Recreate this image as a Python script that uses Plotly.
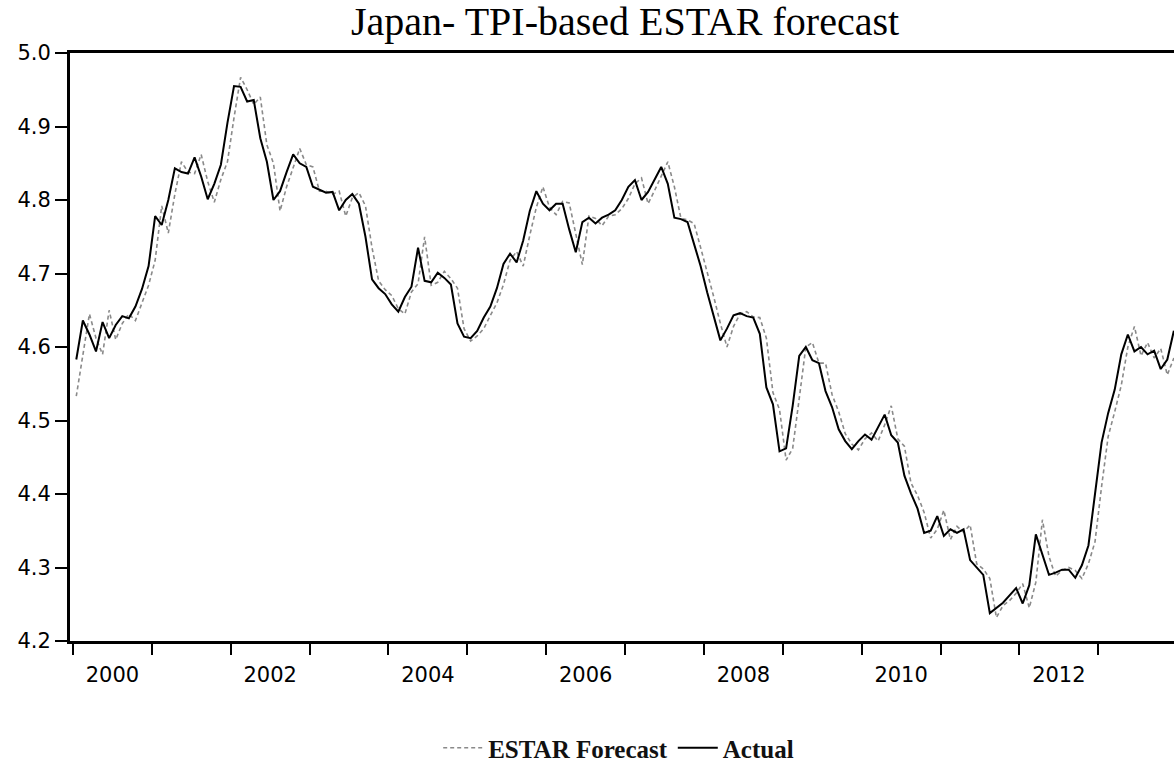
import plotly.graph_objects as go

# Monthly observations, January 2000 to December 2013
start_year = 2000
actual = [
    4.583, 4.636, 4.617, 4.594, 4.634, 4.612, 4.630, 4.642, 4.639, 4.655, 4.679, 4.710,
    4.778, 4.766, 4.800, 4.843, 4.838, 4.836, 4.858, 4.832, 4.801, 4.822, 4.848, 4.905,
    4.955, 4.954, 4.934, 4.936, 4.884, 4.852, 4.800, 4.812, 4.838, 4.862, 4.850, 4.845,
    4.818, 4.814, 4.810, 4.811, 4.786, 4.800, 4.808, 4.795, 4.750, 4.692, 4.680, 4.672,
    4.658, 4.648, 4.668, 4.682, 4.735, 4.690, 4.688, 4.701, 4.694, 4.685, 4.632, 4.614,
    4.612, 4.622, 4.640, 4.655, 4.680, 4.713, 4.727, 4.715, 4.745, 4.785, 4.812, 4.795,
    4.786, 4.795, 4.795, 4.760, 4.729, 4.770, 4.776, 4.768, 4.776, 4.780, 4.786, 4.800,
    4.818, 4.827, 4.800, 4.811, 4.827, 4.845, 4.822, 4.776, 4.774, 4.770, 4.740, 4.710,
    4.674, 4.640, 4.609, 4.625, 4.643, 4.646, 4.642, 4.640, 4.618, 4.545, 4.522, 4.458,
    4.462, 4.520, 4.588, 4.600, 4.582, 4.578, 4.540, 4.518, 4.488, 4.472, 4.461, 4.472,
    4.481, 4.474, 4.490, 4.508, 4.480, 4.470, 4.425, 4.401, 4.380, 4.347, 4.350, 4.370,
    4.343, 4.352, 4.347, 4.352, 4.310, 4.300, 4.290, 4.238, 4.245, 4.252, 4.262, 4.272,
    4.251, 4.276, 4.345, 4.318, 4.290, 4.293, 4.297, 4.297, 4.286, 4.303, 4.330, 4.400,
    4.470, 4.510, 4.542, 4.590, 4.617, 4.594, 4.600, 4.590, 4.595, 4.570, 4.583, 4.622,
]
estar_forecast = [
    4.533, 4.590, 4.645, 4.612, 4.590, 4.650, 4.610, 4.632, 4.645, 4.636, 4.660, 4.684,
    4.718, 4.792, 4.755, 4.808, 4.852, 4.838, 4.836, 4.862, 4.825, 4.797, 4.828, 4.852,
    4.912, 4.967, 4.950, 4.930, 4.940, 4.875, 4.850, 4.785, 4.818, 4.845, 4.870, 4.848,
    4.845, 4.812, 4.812, 4.808, 4.812, 4.778, 4.803, 4.810, 4.792, 4.735, 4.690, 4.678,
    4.670, 4.652, 4.645, 4.675, 4.686, 4.750, 4.684, 4.688, 4.703, 4.693, 4.680, 4.625,
    4.608, 4.615, 4.625, 4.643, 4.660, 4.685, 4.718, 4.730, 4.710, 4.752, 4.790, 4.818,
    4.790, 4.780, 4.798, 4.796, 4.752, 4.712, 4.778, 4.775, 4.765, 4.778, 4.780, 4.788,
    4.802, 4.822, 4.830, 4.795, 4.813, 4.832, 4.852, 4.818, 4.775, 4.773, 4.768, 4.735,
    4.703, 4.668, 4.632, 4.600, 4.628, 4.645, 4.648, 4.641, 4.640, 4.612, 4.538, 4.515,
    4.446, 4.462, 4.530, 4.600, 4.606, 4.578, 4.578, 4.535, 4.512, 4.482, 4.468, 4.460,
    4.475, 4.483, 4.472, 4.494, 4.520, 4.475, 4.465, 4.415, 4.398, 4.375, 4.340, 4.352,
    4.378, 4.338, 4.356, 4.348, 4.358, 4.305, 4.298, 4.285, 4.232, 4.248, 4.255, 4.265,
    4.278, 4.245, 4.280, 4.365, 4.315, 4.288, 4.296, 4.300, 4.296, 4.285, 4.305, 4.335,
    4.410, 4.478, 4.512, 4.548, 4.600, 4.628, 4.588, 4.606, 4.585, 4.598, 4.562, 4.585,
]
year_labels = ["2000", "2002", "2004", "2006", "2008", "2010", "2012"]
y_ticks = [4.2, 4.3, 4.4, 4.5, 4.6, 4.7, 4.8, 4.9, 5.0]

# each monthly value sits at the middle of its month on a decimal-year axis
months = [start_year + (i + 0.5) / 12 for i in range(len(actual))]

fig = go.Figure()
fig.add_trace(go.Scatter(
    x=months, y=estar_forecast, mode="lines", name="ESTAR Forecast",
    line=dict(color="#8a8a8a", width=1.6, dash="4px,3px"),
))
fig.add_trace(go.Scatter(
    x=months, y=actual, mode="lines", name="Actual",
    line=dict(color="black", width=2),
))

fig.update_layout(
    width=1174, height=765,
    margin=dict(l=70, r=0, t=53, b=124, autoexpand=False),
    paper_bgcolor="white", plot_bgcolor="white",
    showlegend=True,
    legend=dict(
        orientation="h", x=0.497, xanchor="center", y=-0.182, yanchor="middle",
        font=dict(family="Liberation Serif", size=25, color="#111", weight="bold"),
        itemwidth=40, bgcolor="rgba(0,0,0,0)",
    ),
    annotations=[dict(
        text="Japan- TPI-based ESTAR forecast", x=0.5027, y=1.053,
        xref="paper", yref="paper", xanchor="center", yanchor="middle",
        showarrow=False, font=dict(family="Liberation Serif", size=40, color="black"),
    )],
)

fig.update_xaxes(
    range=[1999.962, 2013.96], automargin=False,
    tickvals=[int(y) + 0.5 for y in year_labels], ticktext=year_labels,
    ticks="", showgrid=False, zeroline=False,
    showline=True, linecolor="black", linewidth=3, mirror=True,
    tickfont=dict(family="DejaVu Sans", size=21, color="black"),
    ticklabelstandoff=13,
    minor=dict(tickvals=list(range(2000, 2014)), ticks="outside", ticklen=11,
               tickwidth=2, tickcolor="black", showgrid=False),
)
fig.update_yaxes(
    range=[4.2, 5.0], automargin=False,
    tickvals=y_ticks, ticktext=[f"{v:.1f}" for v in y_ticks],
    ticks="outside", ticklen=12, tickwidth=2, tickcolor="black",
    showgrid=False, zeroline=False,
    showline=True, linecolor="black", linewidth=3,
    tickfont=dict(family="DejaVu Sans", size=21, color="black"),
)

fig.write_html("out.html")
